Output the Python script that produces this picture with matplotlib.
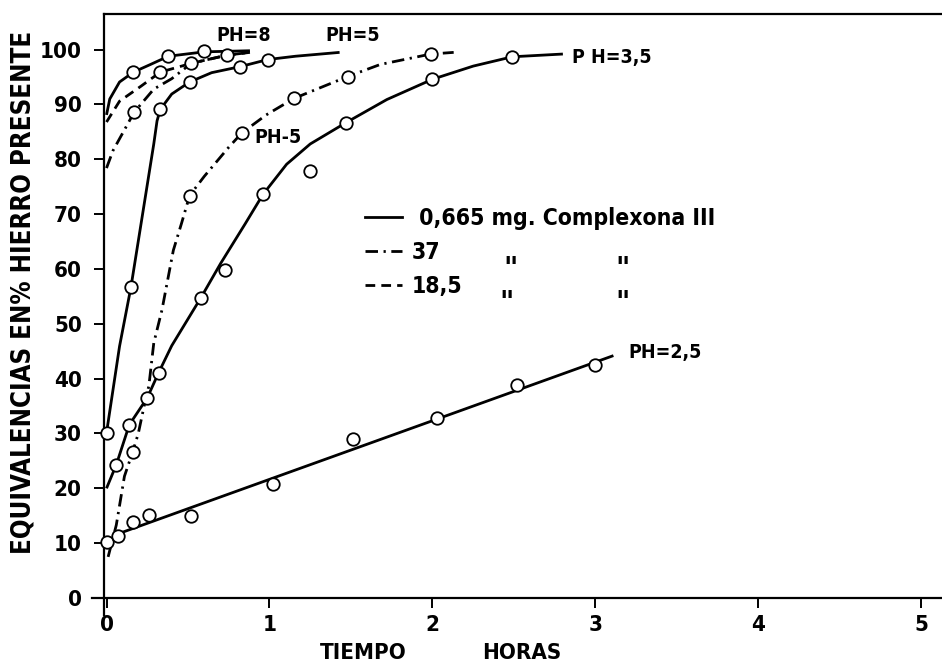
import numpy as np
import matplotlib
matplotlib.use("Agg")
import matplotlib.pyplot as plt
from matplotlib.lines import Line2D

plt.rcParams['font.family'] = ['DejaVu Sans']
plt.rcParams['font.stretch'] = 'condensed'
plt.rcParams['font.weight'] = 'bold'

# --- curves (tiempo en horas, % hierro) ---
# pH 8, 0,665 mg (solid)
ph8_sol_x = [0.0, 0.02, 0.08, 0.165, 0.27, 0.38, 0.60, 0.88]
ph8_sol_y = [88.1, 91.0, 94.1, 95.9, 97.3, 98.8, 99.6, 99.8]
ph8_sol_px = [0.165, 0.38, 0.60]
ph8_sol_py = [95.9, 98.8, 99.7]

# pH 8, 18,5 mg (dashed)
ph8_das_x = [0.0, 0.08, 0.21, 0.33, 0.52, 0.74, 0.88]
ph8_das_y = [86.8, 90.6, 93.3, 95.9, 97.5, 99.0, 99.5]
ph8_das_px = [0.33, 0.74]
ph8_das_py = [95.9, 99.0]

# pH 8, 37 mg (dash-dot)
ph8_dd_x = [0.0, 0.04, 0.17, 0.29, 0.40, 0.52, 0.74, 0.88]
ph8_dd_y = [78.4, 81.6, 88.6, 92.8, 94.7, 97.5, 99.0, 99.5]
ph8_dd_px = [0.17, 0.52]
ph8_dd_py = [88.6, 97.5]

# pH 5, 0,665 mg (solid, steep)
ph5_sol_x = [0.0, 0.08, 0.15, 0.29, 0.31, 0.33, 0.40, 0.51, 0.645, 0.82, 0.99, 1.16, 1.43]
ph5_sol_y = [30.1, 45.9, 56.7, 82.8, 87.0, 89.1, 91.9, 94.1, 95.8, 96.9, 98.2, 98.8, 99.5]
ph5_sol_px = [0.0, 0.15, 0.33, 0.51, 0.82, 0.99]
ph5_sol_py = [30.1, 56.7, 89.1, 94.1, 96.9, 98.2]

# pH 5, 37 mg (dash-dot)
ph5_dd_x = [0.01, 0.06, 0.11, 0.16, 0.195, 0.23, 0.26, 0.29, 0.34, 0.41, 0.46,
            0.51, 0.60, 0.75, 0.83, 0.98, 1.15, 1.48, 1.68, 1.99, 2.13]
ph5_dd_y = [7.5, 13.3, 22.2, 26.6, 30.0, 34.9, 38.7, 46.5, 52.5, 63.4, 68.3,
            73.4, 76.9, 82.2, 84.8, 88.1, 91.1, 95.1, 97.3, 99.2, 99.5]
ph5_dd_px = [0.16, 0.51, 0.83, 1.15, 1.48, 1.99]
ph5_dd_py = [26.6, 73.4, 84.8, 91.1, 95.1, 99.2]

# pH 3,5, 0,665 mg (solid)
ph35_x = [0.0, 0.06, 0.14, 0.25, 0.32, 0.40, 0.58, 0.70, 0.85, 0.96, 1.105,
          1.25, 1.47, 1.72, 2.0, 2.25, 2.49, 2.8]
ph35_y = [20.0, 24.3, 31.6, 36.5, 41.1, 46.0, 54.8, 61.0, 68.2, 73.6, 79.1,
          82.8, 86.7, 90.9, 94.6, 97.0, 98.7, 99.2]
ph35_px = [0.06, 0.14, 0.25, 0.32, 0.58, 0.73, 0.96, 1.25, 1.47, 2.0, 2.49]
ph35_py = [24.3, 31.6, 36.5, 41.1, 54.8, 59.9, 73.6, 77.9, 86.7, 94.6, 98.7]

# pH 2,5, 0,665 mg (solid, straight)
ph25_x = [0.08, 3.11]
ph25_y = [11.8, 44.2]
ph25_px = [0.0, 0.07, 0.16, 0.26, 0.52, 1.02, 1.51, 2.03, 2.52, 3.0]
ph25_py = [10.3, 11.3, 13.8, 15.2, 15.0, 20.8, 29.0, 32.8, 38.8, 42.5]

xticks = [0, 1, 2, 3, 4, 5]
yticks = [0, 10, 20, 30, 40, 50, 60, 70, 80, 90, 100]

W, H = 942, 665
fig = plt.figure(figsize=(W / 100, H / 100), dpi=100)
ax = fig.add_axes([92 / W, 1 - 615 / H, 1 - 92 / W, (615 - 14) / H])
ax.set_xlim(-0.089, 5.126)
ax.set_ylim(-3.1, 106.5)

solid = '-'
dashed = (0, (3.5, 2.2))
dashdot = (0, (4.5, 2.0, 0.8, 2.0))
lw = 2.0

curves = [
    (ph8_sol_x, ph8_sol_y, ph8_sol_px, ph8_sol_py, solid),
    (ph8_das_x, ph8_das_y, ph8_das_px, ph8_das_py, dashed),
    (ph8_dd_x, ph8_dd_y, ph8_dd_px, ph8_dd_py, dashdot),
    (ph5_sol_x, ph5_sol_y, ph5_sol_px, ph5_sol_py, solid),
    (ph5_dd_x, ph5_dd_y, ph5_dd_px, ph5_dd_py, dashdot),
    (ph35_x, ph35_y, ph35_px, ph35_py, solid),
    (ph25_x, ph25_y, ph25_px, ph25_py, solid),
]
for cx, cy, px, py, ls in curves:
    ax.plot(cx, cy, color='black', lw=lw, linestyle=ls, zorder=2,
            solid_capstyle='butt', dash_capstyle='butt')
    ax.plot(px, py, 'o', ms=9, mfc='white', mec='black', mew=1.3, zorder=3)

# axes look
ax.spines['right'].set_visible(False)
ax.spines['bottom'].set_position(('data', 0))
ax.spines['left'].set_position(('data', -0.015))
ax.spines['top'].set_bounds(-0.015, 5.126)
for s in ['left', 'bottom', 'top']:
    ax.spines[s].set_linewidth(1.6)

ax.set_xticks(xticks)
ax.set_yticks(yticks)
ax.tick_params(axis='both', direction='out', length=7, width=1.4,
               labelsize=16, pad=5)
ax.tick_params(axis='y', pad=9)
ax.xaxis.set_ticks_position('bottom')
ax.yaxis.set_ticks_position('left')

# axis titles
fig.text(24 / W, 1 - 292 / H, 'EQUIVALENCIAS EN% HIERRO PRESENTE', rotation=90,
         ha='center', va='center', fontsize=18.5, fontweight='bold')
fig.text(363 / W, 1 - 653 / H, 'TIEMPO', ha='center', va='center',
         fontsize=16, fontweight='bold')
fig.text(522 / W, 1 - 653 / H, 'HORAS', ha='center', va='center',
         fontsize=16, fontweight='bold')

# curve labels
lab = dict(fontsize=14, fontweight='bold', va='center')
ax.text(0.84, 102.6, 'PH=8', ha='center', **lab)
ax.text(1.51, 102.5, 'PH=5', ha='center', **lab)
ax.text(1.05, 84.0, 'PH-5', ha='center', **lab)
ax.text(2.856, 98.6, 'P H=3,5', ha='left', **lab)
ax.text(3.2, 44.8, 'PH=2,5', ha='left', **lab)

# legend
handles = [Line2D([], [], color='black', lw=lw, linestyle=solid),
           Line2D([], [], color='black', lw=lw, linestyle=dashdot),
           Line2D([], [], color='black', lw=lw, linestyle=dashed)]
labels = [' 0,665 mg. Complexona III', '37', '18,5']
leg = ax.legend(handles, labels, loc='upper left',
                bbox_to_anchor=(365 / W, 1 - 207 / H),
                bbox_transform=fig.transFigure, frameon=False,
                borderpad=0, borderaxespad=0, handlelength=1.6,
                handletextpad=0.45, labelspacing=0.47,
                prop={'size': 16.5, 'weight': 'bold'})

ditto = dict(fontsize=22, fontweight='bold', ha='center', va='center',
             style='italic')
fig.text(510 / W, 1 - 270 / H, '"', **ditto)
fig.text(622 / W, 1 - 270 / H, '"', **ditto)
fig.text(507 / W, 1 - 303 / H, '"', **ditto)
fig.text(622 / W, 1 - 303 / H, '"', **ditto)

fig.savefig('out.png', dpi=100)
